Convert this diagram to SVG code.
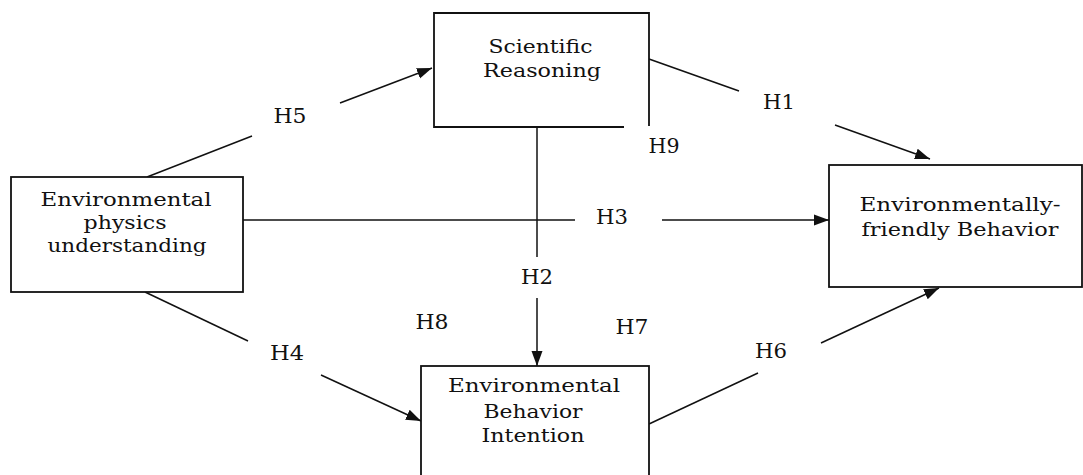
<svg xmlns="http://www.w3.org/2000/svg" width="1083" height="475" viewBox="0 0 1083 475">
<style>
.box{fill:#fff;stroke:#111;stroke-width:1.8}
.ln{fill:none;stroke:#111;stroke-width:1.5}
.t{font-family:"DejaVu Serif","Liberation Serif",serif;font-size:19px;fill:#111;text-anchor:middle}
.h{font-family:"DejaVu Serif","Liberation Serif",serif;font-size:20px;fill:#111;text-anchor:middle}
</style>
<defs>
<marker id="arr" markerUnits="userSpaceOnUse" markerWidth="16" markerHeight="12" refX="15" refY="6" orient="auto">
<path d="M0,0.5 L15,6 L0,11.5 z" fill="#111"/>
</marker>
</defs>
<rect width="1083" height="475" fill="#fff"/>
<g id="connectors">
<path class="ln" d="M147,177 L252,136"/>
<path class="ln" d="M340,103 L432,68" marker-end="url(#arr)"/>
<path class="ln" d="M649,59 L739,91"/>
<path class="ln" d="M835,125 L930,159" marker-end="url(#arr)"/>
<path class="ln" d="M243,220 L575,220"/>
<path class="ln" d="M662,220 L829,220" marker-end="url(#arr)"/>
<path class="ln" d="M537,127 L537,257"/>
<path class="ln" d="M537,298 L537,366" marker-end="url(#arr)"/>
<path class="ln" d="M145,292 L248,341"/>
<path class="ln" d="M321,375 L421,421" marker-end="url(#arr)"/>
<path class="ln" d="M649,424 L758,373"/>
<path class="ln" d="M821,343 L939,288" marker-end="url(#arr)"/>
<text class="h" x="290" y="123" textLength="33" lengthAdjust="spacingAndGlyphs">H5</text>
<text class="h" x="779" y="109" textLength="32" lengthAdjust="spacingAndGlyphs">H1</text>
<text class="h" x="664" y="153" textLength="31" lengthAdjust="spacingAndGlyphs">H9</text>
<text class="h" x="612" y="224" textLength="32" lengthAdjust="spacingAndGlyphs">H3</text>
<text class="h" x="537" y="284" textLength="32" lengthAdjust="spacingAndGlyphs">H2</text>
<text class="h" x="771" y="358" textLength="32" lengthAdjust="spacingAndGlyphs">H6</text>
<text class="h" x="287" y="360" textLength="34" lengthAdjust="spacingAndGlyphs">H4</text>
<text class="h" x="432" y="329" textLength="33" lengthAdjust="spacingAndGlyphs">H8</text>
<text class="h" x="632" y="334" textLength="33" lengthAdjust="spacingAndGlyphs">H7</text>
</g>
<g id="env-physics">
<rect class="box" x="11" y="177" width="232" height="115"/>
<text class="t" x="126" y="205.5" textLength="171" lengthAdjust="spacingAndGlyphs">Environmental</text>
<text class="t" x="125" y="228.5" textLength="83" lengthAdjust="spacingAndGlyphs">physics</text>
<text class="t" x="127" y="251.5" textLength="159" lengthAdjust="spacingAndGlyphs">understanding</text>
</g>
<g id="scientific-reasoning">
<path class="box" d="M624,127 H434 V13 H649 V126"/>
<text class="t" x="540.5" y="53" textLength="104" lengthAdjust="spacingAndGlyphs">Scientific</text>
<text class="t" x="542" y="77" textLength="118" lengthAdjust="spacingAndGlyphs">Reasoning</text>
</g>
<g id="env-friendly-behavior">
<rect class="box" x="829" y="165" width="253" height="122"/>
<text class="t" x="960" y="211" textLength="201" lengthAdjust="spacingAndGlyphs">Environmentally-</text>
<text class="t" x="960" y="236" textLength="197" lengthAdjust="spacingAndGlyphs">friendly Behavior</text>
</g>
<g id="env-behavior-intention">
<rect class="box" x="421" y="366" width="228" height="120"/>
<text class="t" x="534" y="391.5" textLength="172" lengthAdjust="spacingAndGlyphs">Environmental</text>
<text class="t" x="533" y="418" textLength="99" lengthAdjust="spacingAndGlyphs">Behavior</text>
<text class="t" x="533" y="441.5" textLength="103" lengthAdjust="spacingAndGlyphs">Intention</text>
</g>
</svg>
